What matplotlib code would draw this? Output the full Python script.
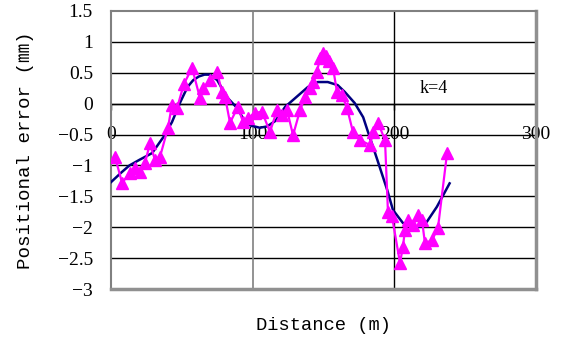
import numpy as np
import matplotlib
matplotlib.use("Agg")
import matplotlib.pyplot as plt

# measured positional error (magenta triangles)
dist = [2.8, 7.8, 13.4, 16.9, 20.5, 24, 27.5, 31, 34.6, 40.2, 43, 46.6, 51.5, 57.2,
        62.8, 65, 70, 74.8, 78.4, 80.5, 84, 89.6, 93.2, 96.7, 101.6, 106.6, 112.2,
        117.2, 120.7, 124.2, 128.5, 133.5, 137, 140.5, 142.6, 145.4, 147.5, 149.6,
        151.8, 153.9, 156.7, 159.5, 163, 166.6, 170.8, 175.8, 182.8, 185, 188.5,
        193.4, 195.5, 198.3, 204, 206, 207.5, 209.6, 213.2, 216.7, 219.5, 221.6,
        226.6, 230.8, 237.2]
err = [-0.86, -1.28, -1.12, -1.04, -1.1, -0.96, -0.64, -0.91, -0.86, -0.39, -0.02,
       -0.07, 0.32, 0.58, 0.09, 0.25, 0.38, 0.51, 0.19, 0.11, -0.31, -0.05, -0.3,
       -0.23, -0.15, -0.13, -0.46, -0.1, -0.18, -0.1, -0.51, -0.1, 0.11, 0.25, 0.35,
       0.51, 0.74, 0.82, 0.77, 0.69, 0.58, 0.19, 0.14, -0.07, -0.46, -0.59, -0.67,
       -0.46, -0.31, -0.59, -1.76, -1.82, -2.58, -2.32, -2.05, -1.88, -1.96, -1.8,
       -1.88, -2.26, -2.21, -2.01, -0.8]

# fitted curve (navy)
fit_x = [0, 7, 13, 20, 29, 37, 43, 49, 54, 58, 62, 66, 70, 75, 82, 89, 93, 98, 105,
         110, 116, 123, 130, 139, 146, 153, 160, 165, 172, 178, 181, 188, 195, 199,
         206, 213, 218, 223, 230, 239]
fit_y = [-1.27, -1.12, -1.0, -0.91, -0.8, -0.54, -0.3, 0.03, 0.27, 0.38, 0.44, 0.47,
         0.47, 0.38, 0.1, -0.07, -0.23, -0.35, -0.39, -0.37, -0.28, -0.05, 0.09,
         0.27, 0.35, 0.35, 0.3, 0.19, 0.01, -0.22, -0.43, -0.91, -1.4, -1.72, -1.93,
         -2.01, -1.99, -1.91, -1.67, -1.29]

xticks = [0, 100, 200, 300]
yticks = [-3, -2.5, -2, -1.5, -1, -0.5, 0, 0.5, 1, 1.5]
ytick_labels = ["−3", "−2.5", "−2", "−1.5", "−1", "−0.5", "0", "0.5", "1", "1.5"]

serif = ["Liberation Serif", "DejaVu Serif"]
mono = ["Liberation Mono", "Noto Sans CJK JP", "DejaVu Sans"]

fig = plt.figure(figsize=(5.65, 3.43), dpi=100)
ax = fig.add_axes([0.1965, 0.1574, 0.7522, 0.8106])

ax.set_xlim(0, 300)
ax.set_ylim(-3, 1.5)

# horizontal grid lines
for yv in yticks[1:-1]:
    ax.axhline(yv, color="black", lw=1, zorder=1)
ax.axvline(100, color="#808080", lw=1.2, zorder=1)
ax.axvline(200, color="black", lw=1, zorder=1)

ax.plot(fit_x, fit_y, color="#000080", lw=1.8, zorder=3)
ax.plot(dist, err, color="#FF00FF", lw=1.6, marker="^", ms=8.5, zorder=4)

ax.text(228, 0.24, "k=4", fontsize=13, family=serif, ha="center", va="center")

for side in ["left", "top"]:
    ax.spines[side].set_color("#808080")
    ax.spines[side].set_linewidth(1.5)
for side in ["right", "bottom"]:
    ax.spines[side].set_color("#909090")
    ax.spines[side].set_linewidth(2.5)

ax.set_xticks([])
ax.set_yticks(yticks)
ax.set_yticklabels(ytick_labels, family=serif, fontsize=14)
ax.tick_params(axis="y", length=0, pad=13)

# x axis crosses at y = 0
sec = ax.secondary_xaxis(3 / 4.5)
sec.xaxis.set_ticks_position("bottom")
sec.set_xticks(xticks)
sec.set_xticklabels([str(v) for v in xticks], family=serif, fontsize=14)
sec.tick_params(axis="x", bottom=True, top=False, labelbottom=True, labeltop=False,
                length=4, width=1, pad=12, color="black")
for s in sec.spines.values():
    s.set_color("black")
    s.set_linewidth(1)

fig.text(0.046, 0.563, "Positional error (\u339c)", rotation=90, fontsize=13.8,
         family=mono, ha="center", va="center")
fig.text(0.5725, 0.05, "Distance (m)", fontsize=13.5, family=mono,
         ha="center", va="center")

fig.savefig("out.png", dpi=100)
